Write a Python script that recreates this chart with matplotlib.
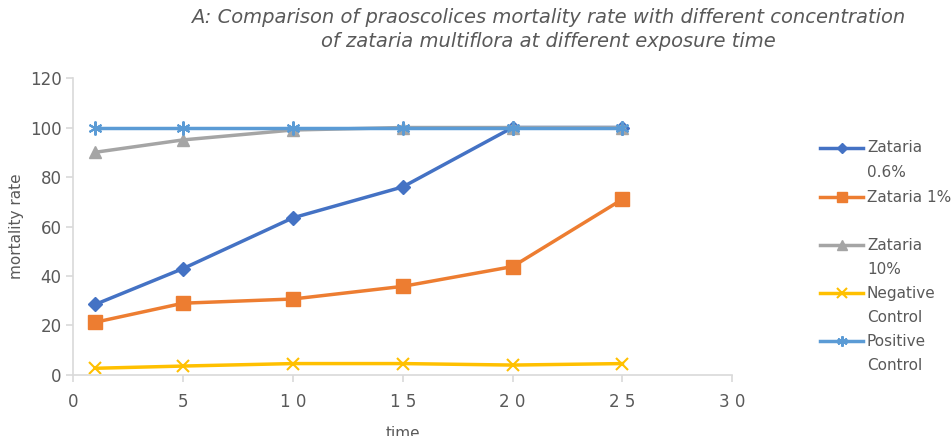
import matplotlib.pyplot as plt
from matplotlib.lines import Line2D

# exposure time (x) and mortality rate (%) per treatment
time = [1, 5, 10, 15, 20, 25]
zataria_06 = [28.5, 43, 63.5, 76, 100, 100]
zataria_1 = [21.3, 29, 30.7, 35.8, 43.8, 71]
zataria_10 = [90, 95, 99, 100, 100, 100]
negative_control = [2.7, 3.6, 4.6, 4.6, 4.0, 4.6]
positive_control = [100, 100, 100, 100, 100, 100]

series_names = ["Zataria\n0.6%", "Zataria 1%", "Zataria\n10%",
                "Negative\nControl", "Positive\nControl"]
x_ticks = [0, 5, 10, 15, 20, 25, 30]
y_ticks = [0, 20, 40, 60, 80, 100, 120]

TEXT = "#595959"
AXIS = "#d9d9d9"
ASTERISK = (6, 2, 0)

styles = [
    dict(color="#4472c4", marker="D", ms=7),
    dict(color="#ed7d31", marker="s", ms=10.5),
    dict(color="#a5a5a5", marker="^", ms=9),
    dict(color="#ffc000", marker="x", ms=9, mew=1.5),
    dict(color="#5b9bd5", marker=ASTERISK, ms=10, mew=1.5),
]
values = [zataria_06, zataria_1, zataria_10, negative_control, positive_control]

fig = plt.figure(figsize=(9.51, 4.36), dpi=100)
ax = fig.add_axes([0.077, 0.14, 0.693, 0.681])

for vals, st in zip(values, styles):
    ax.plot(time, vals, lw=2.5, **st)

ax.set_xlim(0, 30)
ax.set_ylim(0, 120)
ax.set_xticks(x_ticks)
ax.set_yticks(y_ticks)
ax.set_xticklabels([" ".join(str(t)) for t in x_ticks])
for s in ("top", "right"):
    ax.spines[s].set_visible(False)
for s in ("left", "bottom"):
    ax.spines[s].set_color(AXIS)
    ax.spines[s].set_linewidth(1.2)
ax.tick_params(colors=AXIS, labelcolor=TEXT, labelsize=12, length=5, width=1.2)
ax.tick_params(axis="x", pad=8)
ax.set_ylabel("mortality rate", color=TEXT, fontsize=11)
ax.set_xlabel("time", color=TEXT, fontsize=11, labelpad=11)

fig.text(548 / 951, 1 - 8 / 436,
         "A: Comparison of praoscolices mortality rate with different concentration\n"
         "of zataria multiflora at different exposure time",
         fontsize=14, style="italic", color=TEXT, ha="center", va="top",
         linespacing=1.35)

# legend drawn by hand so each marker sits on the first line of its label
W, H = 951, 436
row_y = [148, 197, 245, 293, 341]
line_h = 24
for name, st, y in zip(series_names, styles, row_y):
    fy = 1 - y / H
    fig.add_artist(Line2D([820 / W, 863 / W], [fy, fy], transform=fig.transFigure,
                          color=st["color"], lw=2.5))
    mk = dict(st)
    mk["ms"] = st["ms"] * 0.75
    fig.add_artist(Line2D([841.5 / W], [fy], transform=fig.transFigure,
                          ls="none", **mk))
    for i, part in enumerate(name.split("\n")):
        fig.text(867 / W, 1 - (y + i * line_h) / H, part, fontsize=11,
                 color=TEXT, ha="left", va="center")

fig.savefig("out.png", dpi=100)
